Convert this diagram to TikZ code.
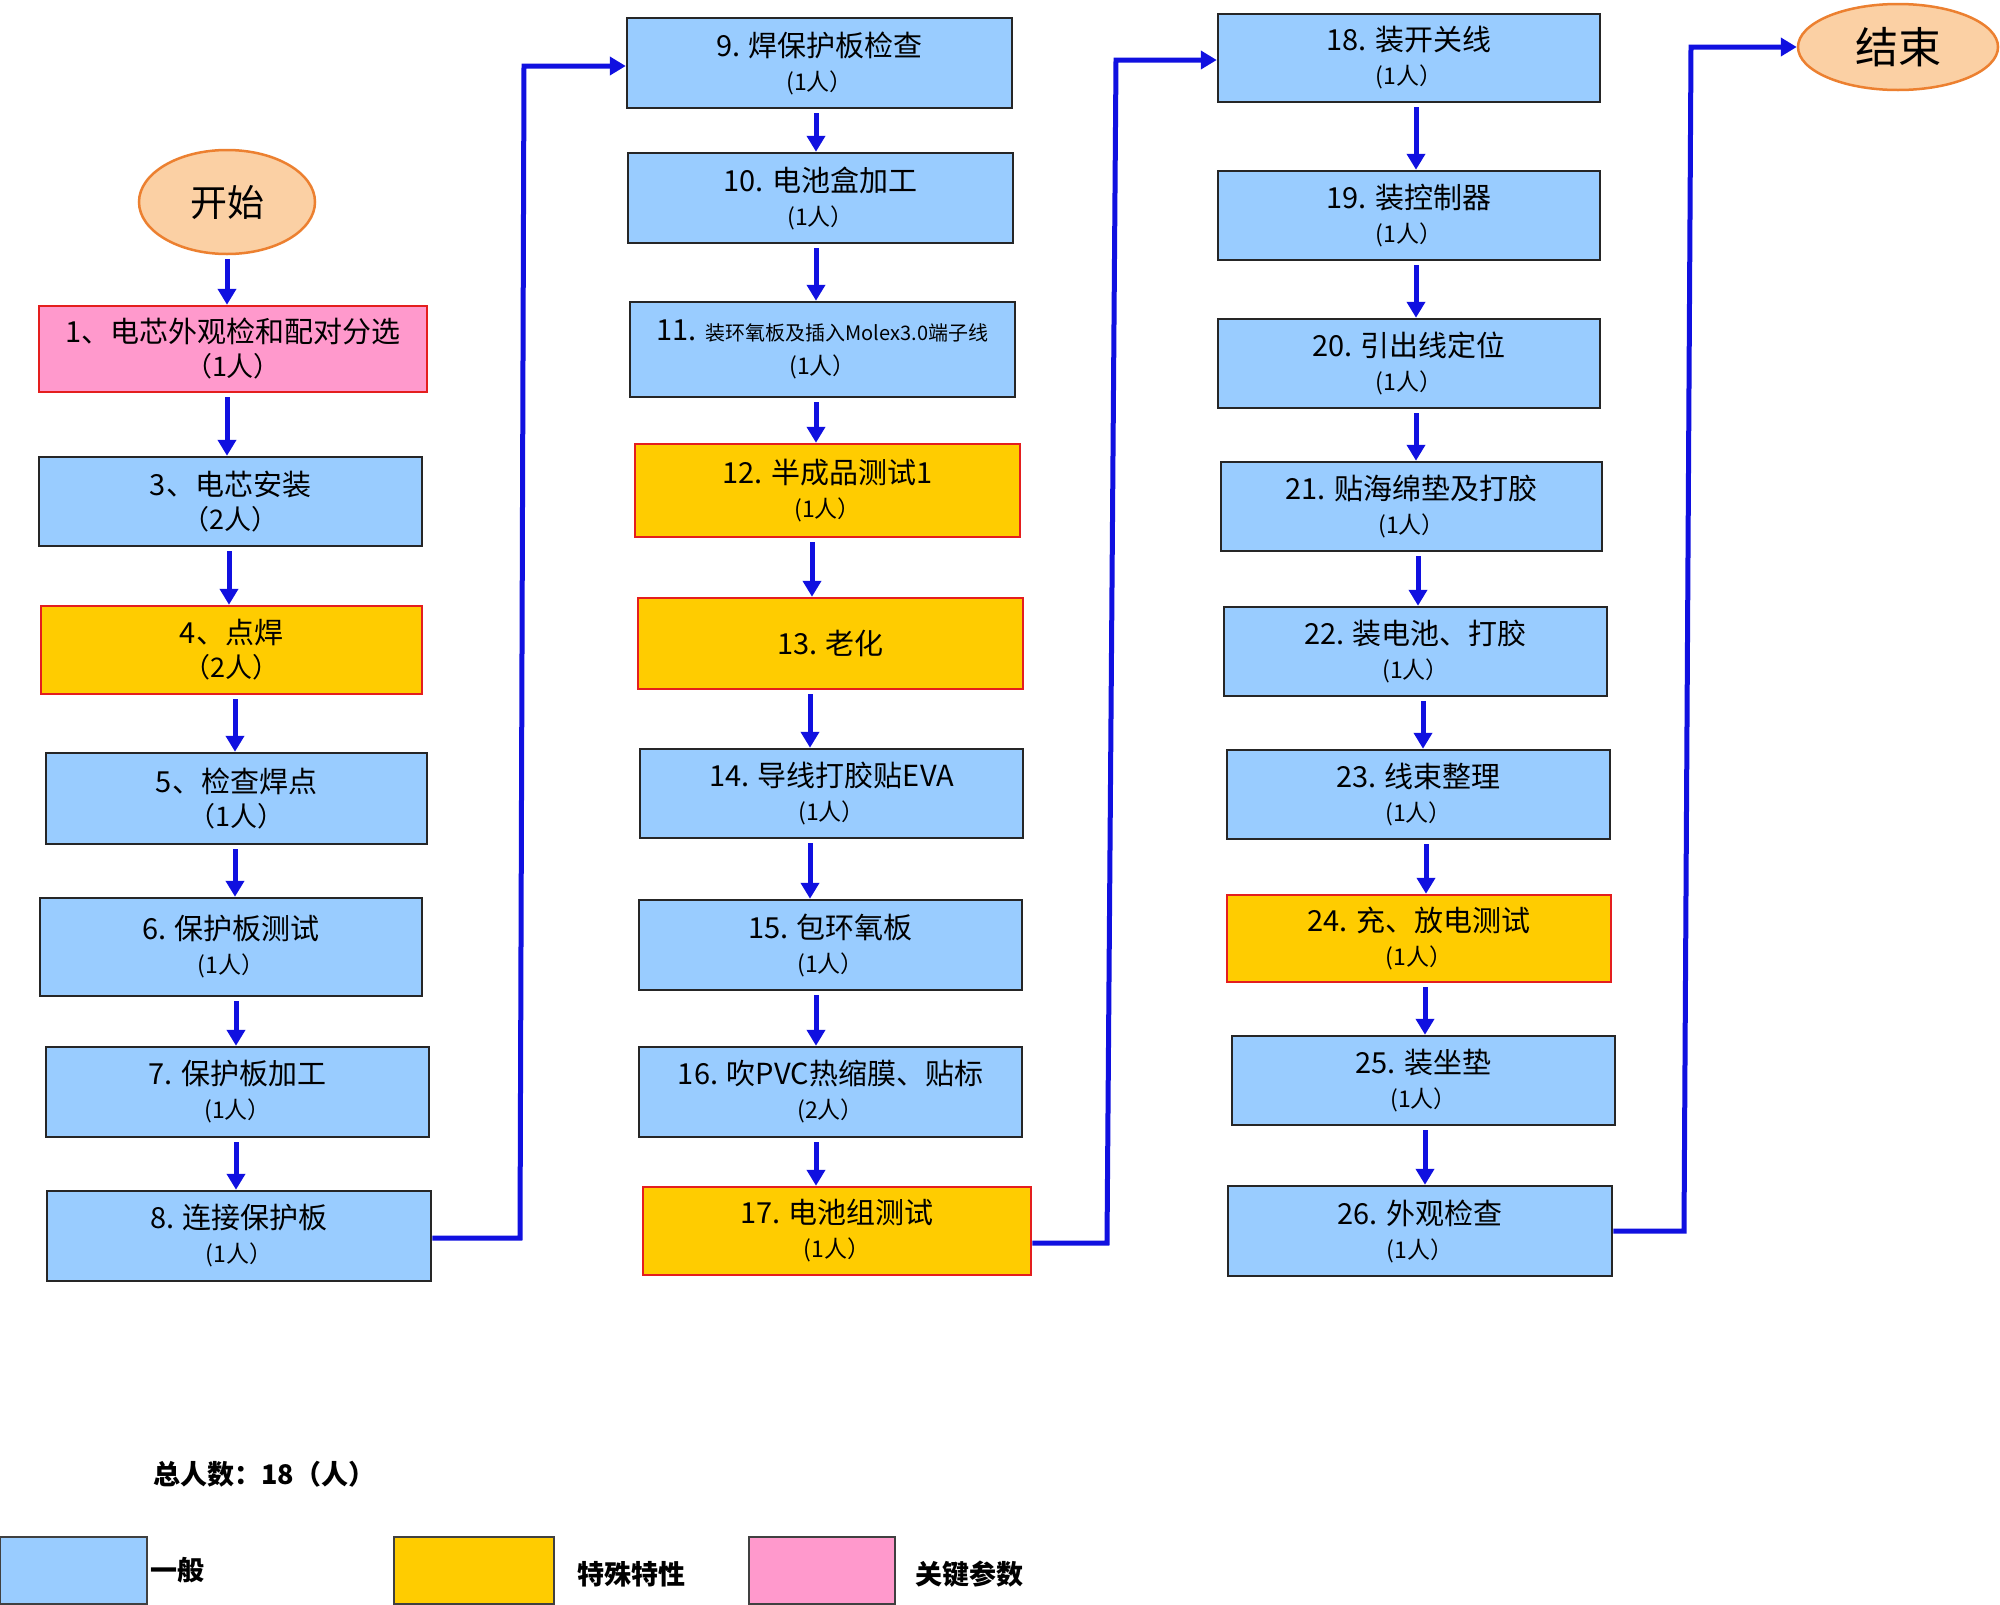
\documentclass[tikz,border=0pt]{standalone}
\usepackage{fontspec}
\setmainfont{Noto Sans CJK SC}
\usetikzlibrary{arrows.meta,shapes.geometric}
\definecolor{boxblue}{RGB}{153,204,255}
\definecolor{boxyellow}{RGB}{255,204,0}
\definecolor{boxpink}{RGB}{255,153,204}
\definecolor{boxred}{RGB}{228,30,30}
\definecolor{arrblue}{RGB}{16,16,224}
\definecolor{ellfill}{RGB}{251,208,164}
\definecolor{ellline}{RGB}{236,128,48}
\tikzset{
 base/.style={rectangle, draw, line width=2.5pt, align=center, inner sep=0pt, font=\fontsize{29}{34}\selectfont},
 gen/.style={base, fill=boxblue, draw=black!85},
 spec/.style={base, fill=boxyellow, draw=boxred},
 keyp/.style={base, fill=boxpink, draw=boxred},
 sz/.style 2 args={minimum width=#1pt, minimum height=#2pt},
 term/.style={ellipse, fill=ellfill, draw=ellline, line width=2.5pt, inner sep=0pt},
 arr/.style={draw=arrblue, line width=5pt, -{Triangle[length=16pt,width=18pt]}},
 legbox/.style={rectangle, draw=black!75, line width=1.5pt, inner sep=0pt, minimum height=67pt},
 legtxt/.style={anchor=west, inner sep=3pt, font=\fontsize{27}{30}\selectfont\bfseries},
}
\newcommand{\sm}[1]{{\fontsize{23}{34}\selectfont #1}}
\newcommand{\md}[1]{{\fontsize{27}{34}\selectfont #1}}
\newcommand{\vlink}[3]{\coordinate (v#1) at (#3,0); \draw[arr, shorten <=4pt] (#1.south -| v#1) -- (#2.north -| v#1);}
\begin{document}
\begin{tikzpicture}[x=1pt,y=-1pt]
\fill[white] (0,0) rectangle (2000,1604);
\useasboundingbox (0,0) rectangle (2000,1604);
% terminals
\node[term, minimum width=176pt, minimum height=104pt, font=\fontsize{37}{40}\selectfont] (st) at (227,202) {开始};
\node[term, minimum width=200pt, minimum height=86pt, font=\fontsize{43}{46}\selectfont] (en) at (1898,47) {结束};
% column 1
\node[keyp, sz={388}{86}] (b1) at (233,349) {1、电芯外观检和配对分选\\\md{（1人）}};
\node[gen, sz={383}{89}] (b3) at (230.5,501.5) {3、电芯安装\\\md{（2人）}};
\node[spec, sz={381}{88}] (b4) at (231.5,650) {4、点焊\\\md{（2人）}};
\node[gen, sz={381}{91}] (b5) at (236.5,798.5) {5、检查焊点\\\md{（1人）}};
\node[gen, sz={382}{98}] (b6) at (231,947) {6. 保护板测试\\\sm{(1人）}};
\node[gen, sz={383}{90}] (b7) at (237.5,1092) {7. 保护板加工\\\sm{(1人）}};
\node[gen, sz={384}{90}] (b8) at (239,1236) {8. 连接保护板\\\sm{(1人）}};
% column 2
\node[gen, sz={385}{90}] (b9) at (819.5,63) {9. 焊保护板检查\\\sm{(1人）}};
\node[gen, sz={385}{90}] (b10) at (820.5,198) {10. 电池盒加工\\\sm{(1人）}};
\node[gen, sz={385}{95}] (b11) at (822.5,349.5) {11. {\fontsize{20}{34}\selectfont 装环氧板及插入Molex3.0端子线}\\\sm{(1人）}};
\node[spec, sz={385}{93}] (b12) at (827.5,490.5) {12. 半成品测试1\\\sm{(1人）}};
\node[spec, sz={385}{91}] (b13) at (830.5,643.5) {13. 老化};
\node[gen, sz={383}{89}] (b14) at (831.5,793.5) {14. 导线打胶贴EVA\\\sm{(1人）}};
\node[gen, sz={383}{90}] (b15) at (830.5,945) {15. 包环氧板\\\sm{(1人）}};
\node[gen, sz={383}{90}] (b16) at (830.5,1092) {16. 吹PVC热缩膜、贴标\\\sm{(2人）}};
\node[spec, sz={388}{88}] (b17) at (837,1231) {17. 电池组测试\\\sm{(1人）}};
% column 3
\node[gen, sz={382}{88}] (b18) at (1409,58) {18. 装开关线\\\sm{(1人）}};
\node[gen, sz={382}{89}] (b19) at (1409,215.5) {19. 装控制器\\\sm{(1人）}};
\node[gen, sz={382}{89}] (b20) at (1409,363.5) {20. 引出线定位\\\sm{(1人）}};
\node[gen, sz={381}{89}] (b21) at (1411.5,506.5) {21. 贴海绵垫及打胶\\\sm{(1人）}};
\node[gen, sz={383}{89}] (b22) at (1415.5,651.5) {22. 装电池、打胶\\\sm{(1人）}};
\node[gen, sz={383}{89}] (b23) at (1418.5,794.5) {23. 线束整理\\\sm{(1人）}};
\node[spec, sz={384}{87}] (b24) at (1419,938.5) {24. 充、放电测试\\\sm{(1人）}};
\node[gen, sz={383}{89}] (b25) at (1423.5,1080.5) {25. 装坐垫\\\sm{(1人）}};
\node[gen, sz={384}{90}] (b26) at (1420,1231) {26. 外观检查\\\sm{(1人）}};
% vertical links
\vlink{st}{b1}{227}
\vlink{b1}{b3}{227}
\vlink{b3}{b4}{229}
\vlink{b4}{b5}{235}
\vlink{b5}{b6}{235}
\vlink{b6}{b7}{236}
\vlink{b7}{b8}{236}
\vlink{b9}{b10}{816}
\vlink{b10}{b11}{816}
\vlink{b11}{b12}{816}
\vlink{b12}{b13}{812}
\vlink{b13}{b14}{810}
\vlink{b14}{b15}{810}
\vlink{b15}{b16}{816}
\vlink{b16}{b17}{816}
\vlink{b18}{b19}{1416}
\vlink{b19}{b20}{1416}
\vlink{b20}{b21}{1416}
\vlink{b21}{b22}{1418}
\vlink{b22}{b23}{1423}
\vlink{b23}{b24}{1426}
\vlink{b24}{b25}{1425}
\vlink{b25}{b26}{1425}
% column-to-column links
\coordinate (k1a) at (520,1238);
\coordinate (k1b) at (524,66);
\draw[arr] (b8.east |- k1a) -- (k1a) -- (k1b) -- (b9.west |- k1b);
\coordinate (k2a) at (1107,1243);
\coordinate (k2b) at (1116,60);
\draw[arr] (b17.east |- k2a) -- (k2a) -- (k2b) -- (b18.west |- k2b);
\coordinate (k3a) at (1684,1231);
\coordinate (k3b) at (1691,47);
\draw[arr] (b26.east |- k3a) -- (k3a) -- (k3b) -- (en.west |- k3b);
% legend
\node[legtxt] (tot) at (150,1474) {总人数：18（人）};
\node[legbox, fill=boxblue, minimum width=147pt] (lg1) at (73.5,1570.5) {};
\node[legtxt] (lt1) at (lg1.east) {一般};
\node[legbox, fill=boxyellow, minimum width=160pt] (lg2) at (474,1570.5) {};
\node[legtxt, inner sep=0pt] (lt2) at (577,1574) {特殊特性};
\node[legbox, fill=boxpink, minimum width=146pt] (lg3) at (822,1570.5) {};
\node[legtxt, inner sep=0pt] (lt3) at (915,1574) {关键参数};
\end{tikzpicture}
\end{document}
